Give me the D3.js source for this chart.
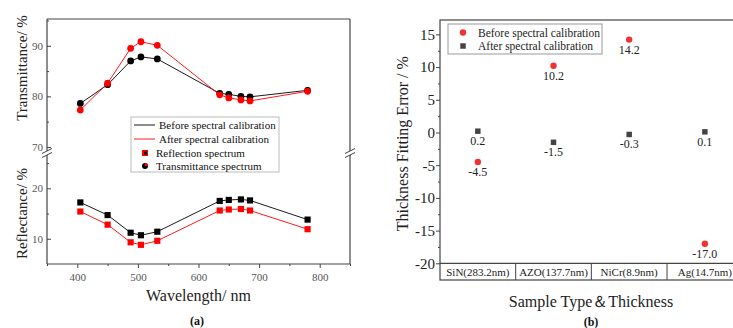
<!DOCTYPE html>
<html><head><meta charset="utf-8">
<script src="https://cdn.jsdelivr.net/npm/d3@7"></script>
<style>body{margin:0;background:#fff}svg{display:block;font-family:"Liberation Serif","Times New Roman",serif}svg text{font-family:"Liberation Serif","Times New Roman",serif}</style>
</head><body>
<svg id="c" width="733" height="328"></svg>
<script>
// ---- Panel (a) data ----
const wavelengths = [405, 450, 488, 505, 532, 635, 650, 670, 685, 780];
const transBefore = [78.6, 82.3, 87.0, 87.8, 87.4, 80.6, 80.4, 80.0, 79.9, 81.2];
const transAfter  = [77.3, 82.6, 89.5, 90.8, 90.1, 80.3, 79.7, 79.3, 79.1, 81.0];
const reflBefore  = [17.2, 14.7, 11.2, 10.7, 11.4, 17.5, 17.7, 17.8, 17.6, 13.8];
const reflAfter   = [15.4, 12.8, 9.3, 8.8, 9.6, 15.6, 15.8, 15.9, 15.6, 11.9];
const xTicksA = [400, 500, 600, 700, 800];
const transTicks = [70, 80, 90];
const reflTicks = [10, 20];
const legendA = ["Before spectral calibration", "After spectral calibration", "Reflection spectrum", "Transmittance spectrum"];

// ---- Panel (b) data ----
const samples = ["SiN(283.2nm)", "AZO(137.7nm)", "NiCr(8.9nm)", "Ag(14.7nm)"];
const errBefore = [-4.5, 10.2, 14.2, -17.0];
const errAfter  = [0.2, -1.5, -0.3, 0.1];
const errTicks = [-20, -15, -10, -5, 0, 5, 10, 15];
const legendB = ["Before spectral calibration", "After spectral calibration"];

const FONT = '"Liberation Serif","Times New Roman",serif';
const svg = d3.select("#c");
const axisCol = "#444";

// ================= Panel (a) =================
const L = 47, R = 350, T = 19, B = 264, BRK = 153;
const x = d3.scaleLinear().domain([350, 850]).range([L, R]);
const yT = d3.scaleLinear().domain([68.8, 95.3]).range([BRK, T]);
const yR = d3.scaleLinear().domain([5, 27]).range([B, BRK]);

const gA = svg.append("g");
gA.append("line").attr("x1", L).attr("x2", R).attr("y1", T).attr("y2", T).attr("stroke", axisCol).attr("stroke-width", 1.2);
gA.append("line").attr("x1", L).attr("x2", R).attr("y1", B).attr("y2", B).attr("stroke", axisCol).attr("stroke-width", 1.2);
[L, R].forEach(xx => {
  gA.append("line").attr("x1", xx).attr("x2", xx).attr("y1", T).attr("y2", B).attr("stroke", axisCol).attr("stroke-width", 1.2);
  gA.append("rect").attr("x", xx - 2).attr("y", BRK - 2).attr("width", 4).attr("height", 4).attr("fill", "#fff");
  [-2, 2].forEach(d => {
    gA.append("line").attr("x1", xx - 5).attr("x2", xx + 5).attr("y1", BRK + d + 2.5).attr("y2", BRK + d - 2.5)
      .attr("stroke", axisCol).attr("stroke-width", 1);
  });
});

const xAxis = d3.axisBottom(x).tickValues(xTicksA).tickSize(4).tickFormat(d3.format("d"));
const gx = gA.append("g").attr("transform", `translate(0,${B})`).call(xAxis).attr("font-family", FONT);
gx.select(".domain").remove();
gx.selectAll(".tick line").attr("stroke", axisCol);
gx.selectAll("text").attr("fill", "#555").attr("font-size", 11).attr("dy", "0.95em");
const gxm = gA.append("g").attr("transform", `translate(0,${B})`).call(d3.axisBottom(x).tickValues([350, 450, 550, 650, 750, 850]).tickSize(2).tickFormat(""));
gxm.select(".domain").remove(); gxm.selectAll("line").attr("stroke", axisCol);

function yTicks(scale, vals, minor) {
  const g = gA.append("g").attr("transform", `translate(${L},0)`).call(d3.axisLeft(scale).tickValues(vals).tickSize(-4)).attr("font-family", FONT);
  g.select(".domain").remove();
  g.selectAll(".tick line").attr("stroke", axisCol);
  g.selectAll("text").attr("fill", "#555").attr("font-size", 11).attr("x", -4);
  const gm = gA.append("g").attr("transform", `translate(${L},0)`).call(d3.axisLeft(scale).tickValues(minor).tickSize(-2).tickFormat(""));
  gm.select(".domain").remove(); gm.selectAll("line").attr("stroke", axisCol);
}
yTicks(yT, transTicks, [75, 85, 95]);
yTicks(yR, reflTicks, [15, 25]);

function series(vals, scale, color, shape) {
  const data = wavelengths.map((w, i) => [w, vals[i]]);
  gA.append("path").datum(data).attr("fill", "none").attr("stroke", color).attr("stroke-width", 0.9)
    .attr("d", d3.line().x(d => x(d[0])).y(d => scale(d[1])));
  const sym = d3.symbol().type(shape === "circle" ? d3.symbolCircle : d3.symbolSquare).size(shape === "circle" ? 36 : 38);
  gA.selectAll(null).data(data).enter().append("path")
    .attr("transform", d => `translate(${x(d[0])},${scale(d[1])})`).attr("d", sym).attr("fill", color);
}
series(transBefore, yT, "#000", "circle");
series(transAfter, yT, "#ff0000", "circle");
series(reflBefore, yR, "#000", "square");
series(reflAfter, yR, "#ff0000", "square");

const lg = gA.append("g");
lg.append("rect").attr("x", 131).attr("y", 117).attr("width", 148).attr("height", 55).attr("fill", "#fff").attr("stroke", "#bbb").attr("stroke-width", 1);
const rowsY = [125, 139, 153, 166];
lg.append("line").attr("x1", 134).attr("x2", 155).attr("y1", rowsY[0]).attr("y2", rowsY[0]).attr("stroke", "#000").attr("stroke-width", 0.9);
lg.append("line").attr("x1", 134).attr("x2", 155).attr("y1", rowsY[1]).attr("y2", rowsY[1]).attr("stroke", "#ff0000").attr("stroke-width", 0.9);
lg.append("rect").attr("x", 142).attr("y", rowsY[2] - 3).attr("width", 6).attr("height", 6).attr("fill", "#ff0000");
lg.append("rect").attr("x", 144).attr("y", rowsY[2] - 1.5).attr("width", 3).attr("height", 3).attr("fill", "#000");
lg.append("circle").attr("cx", 145).attr("cy", rowsY[3]).attr("r", 3).attr("fill", "#000");
lg.append("path").attr("d", d3.arc()({innerRadius: 0, outerRadius: 3, startAngle: 0, endAngle: Math.PI / 2})).attr("transform", `translate(145,${rowsY[3]})`).attr("fill", "#ff0000");
legendA.forEach((t, i) => {
  lg.append("text").attr("x", i < 2 ? 159 : 156).attr("y", rowsY[i]).attr("dy", "0.35em").attr("font-size", 11).attr("fill", "#111").text(t);
});

gA.append("text").attr("transform", `translate(27,68) rotate(-90)`).attr("text-anchor", "middle").attr("font-size", 15).attr("fill", "#222").text("Transmittance/ %");
gA.append("text").attr("transform", `translate(27,${(BRK + B) / 2 + 5}) rotate(-90)`).attr("text-anchor", "middle").attr("font-size", 15).attr("fill", "#222").text("Reflectance/ %");
gA.append("text").attr("x", (L + R) / 2).attr("y", 301).attr("text-anchor", "middle").attr("font-size", 16).attr("fill", "#222").text("Wavelength/ nm");
gA.append("text").attr("x", 197).attr("y", 325).attr("text-anchor", "middle").attr("font-size", 12).attr("font-weight", "bold").attr("fill", "#111").text("(a)");

// ================= Panel (b) =================
const L2 = 440, R2 = 742.7, T2 = 20, B2 = 263.3, BB = 280;
const xb = d3.scaleBand().domain(samples).range([L2, R2]);
const yb = d3.scaleLinear().domain([-20, 17.2]).range([B2, T2]);
const hy = v => (v < 0 ? "-" : "") + Math.abs(v);
const fmt = v => (v < 0 ? "-" : "") + Math.abs(v).toFixed(1);
const gB = svg.append("g");
gB.append("rect").attr("x", L2).attr("y", T2).attr("width", R2 - L2).attr("height", BB - T2).attr("fill", "none").attr("stroke", axisCol).attr("stroke-width", 1.2);
gB.append("line").attr("x1", L2).attr("x2", R2).attr("y1", B2).attr("y2", B2).attr("stroke", axisCol).attr("stroke-width", 1.2);
samples.forEach((s, i) => {
  if (i > 0) gB.append("line").attr("x1", xb(s)).attr("x2", xb(s)).attr("y1", B2).attr("y2", BB).attr("stroke", axisCol).attr("stroke-width", 1);
  gB.append("text").attr("x", xb(s) + xb.bandwidth() / 2).attr("y", (B2 + BB) / 2).attr("dy", "0.35em").attr("text-anchor", "middle").attr("font-size", 11).attr("fill", "#222").text(s);
});
const gy = gB.append("g").attr("transform", `translate(${L2},0)`).call(d3.axisLeft(yb).tickValues(errTicks).tickSize(4).tickFormat(hy)).attr("font-family", FONT);
gy.select(".domain").remove();
gy.selectAll(".tick line").attr("stroke", axisCol);
gy.selectAll("text").attr("fill", "#222").attr("font-size", 15).attr("x", -5);
const gym = gB.append("g").attr("transform", `translate(${L2},0)`).call(d3.axisLeft(yb).tickValues(d3.range(-17.5, 17.5, 5)).tickSize(2).tickFormat(""));
gym.select(".domain").remove(); gym.selectAll("line").attr("stroke", axisCol);

const cx = s => xb(s) + xb.bandwidth() / 2;
samples.forEach((s, i) => {
  gB.append("circle").attr("cx", cx(s)).attr("cy", yb(errBefore[i])).attr("r", 3.2).attr("fill", "#ee3333");
  gB.append("text").attr("x", cx(s)).attr("y", yb(errBefore[i]) + 14).attr("text-anchor", "middle").attr("font-size", 12).attr("fill", "#222").text(fmt(errBefore[i]));
  gB.append("path").attr("transform", `translate(${cx(s)},${yb(errAfter[i])})`).attr("d", d3.symbol().type(d3.symbolSquare).size(30)).attr("fill", "#444");
  gB.append("text").attr("x", cx(s)).attr("y", yb(errAfter[i]) + 14).attr("text-anchor", "middle").attr("font-size", 12).attr("fill", "#222").text(fmt(errAfter[i]));
});

const lb = gB.append("g");
lb.append("rect").attr("x", 448).attr("y", 24).attr("width", 154).attr("height", 30).attr("fill", "#fff").attr("stroke", "#999").attr("stroke-width", 1);
lb.append("circle").attr("cx", 463).attr("cy", 32.5).attr("r", 3.2).attr("fill", "#ee3333");
lb.append("path").attr("transform", "translate(463,46)").attr("d", d3.symbol().type(d3.symbolSquare).size(30)).attr("fill", "#444");
legendB.forEach((t, i) => {
  lb.append("text").attr("x", 478).attr("y", i === 0 ? 32.5 : 46).attr("dy", "0.35em").attr("font-size", 11.5).attr("fill", "#222").text(t);
});

gB.append("text").attr("transform", `translate(408,${(T2 + B2) / 2 + 2}) rotate(-90)`).attr("text-anchor", "middle").attr("font-size", 16).attr("fill", "#222").text("Thickness Fitting Error / %");
gB.append("text").attr("x", 591).attr("y", 307).attr("text-anchor", "middle").attr("font-size", 16).attr("fill", "#222").text("Sample Type＆Thickness");
gB.append("text").attr("x", 591).attr("y", 326).attr("text-anchor", "middle").attr("font-size", 12).attr("font-weight", "bold").attr("fill", "#111").text("(b)");
</script>
</body></html>
